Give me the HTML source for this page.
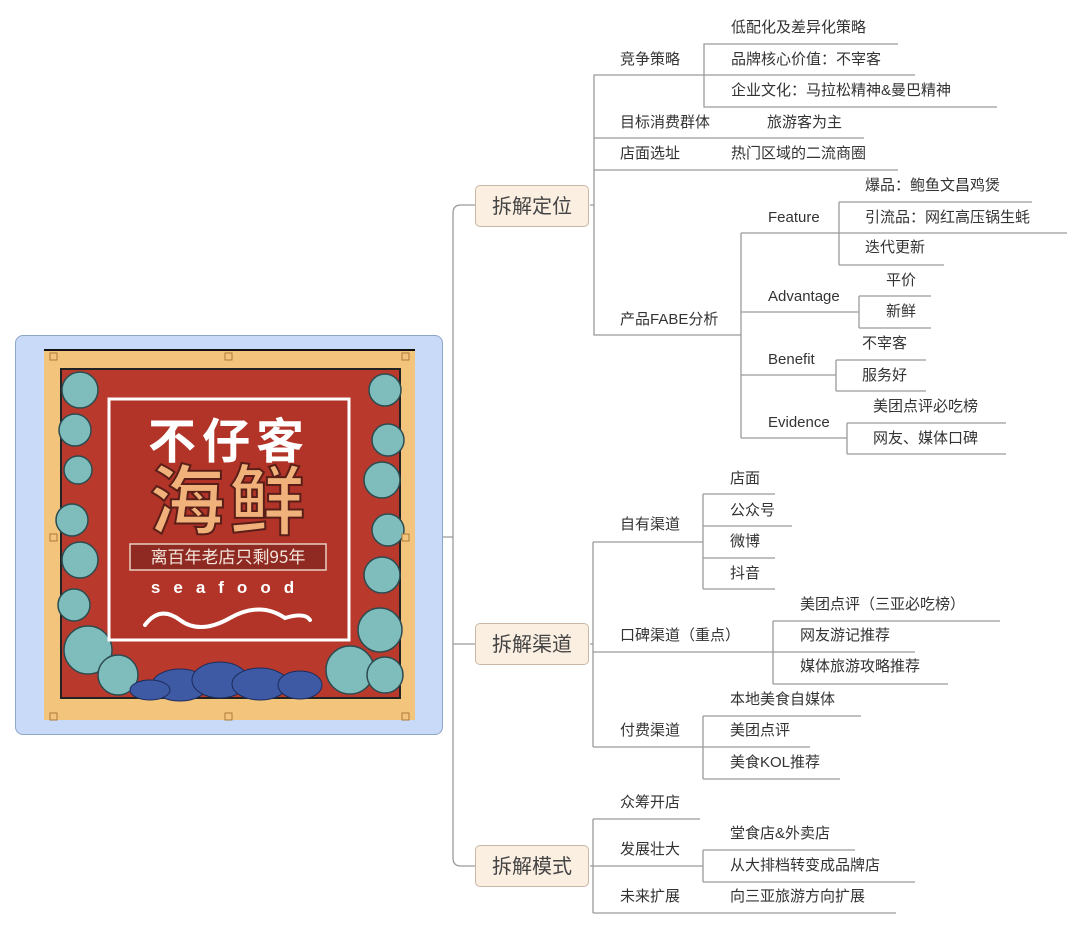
<!DOCTYPE html>
<html><head><meta charset="utf-8"><style>
body{margin:0;width:1080px;height:928px;background:#fff;position:relative;overflow:hidden;font-family:"Liberation Sans","Noto Sans CJK SC",sans-serif;color:#333}
.t{position:absolute;font-size:15px;line-height:18px;white-space:nowrap;transform:translateY(-50%)}
.b{position:absolute;left:475px;width:114px;height:42px;background:#fbefe2;border:1px solid #c9b8a6;border-radius:5px;font-size:20px;line-height:42px;text-align:center;color:#444;box-sizing:border-box}
svg{position:absolute;left:0;top:0}
</style></head><body>
<svg width="1080" height="928" fill="none" stroke="#9a9a9a" stroke-width="1.3">
<path d="M475 205H461Q453 205 453 213V858Q453 866 461 866H475M443 537H453M453 644H475"/>
<path d="M590 205H594M600 75H594V335H741M594 138H864M594 170H898M594 75H704M710 44H704V107H997M704 75H915M704 44H898"/>
<path d="M741 233V438M741 233H839M741 312H859M741 375H836M741 438H847"/>
<path d="M839 202V265M839 202H1032M839 233H1067M839 265H944"/>
<path d="M859 296V328M859 296H931M859 328H931"/>
<path d="M836 360V391M836 360H926M836 391H926"/>
<path d="M847 423V454M847 423H1006M847 454H1006"/>
<path d="M590 644H593M593 542V747M593 542H703M593 652H773M593 747H703"/>
<path d="M703 494V589M703 494H775M703 526H792M703 558H775M703 589H775"/>
<path d="M773 621V684M773 621H1000M773 652H915M773 684H948"/>
<path d="M703 716V779M703 716H861M703 747H810M703 779H840"/>
<path d="M590 866H593M593 819V913M593 819H700M593 866H703M593 913H896M703 850V882M703 850H855M703 882H915"/>
</svg>

<div class="b" style="top:185px">拆解定位</div>
<div class="b" style="top:623px">拆解渠道</div>
<div class="b" style="top:845px">拆解模式</div>

<div class="t" style="left:620px;top:60px">竞争策略</div>
<div class="t" style="left:731px;top:28px">低配化及差异化策略</div>
<div class="t" style="left:731px;top:60px">品牌核心价值：不宰客</div>
<div class="t" style="left:731px;top:91px">企业文化：马拉松精神&amp;曼巴精神</div>
<div class="t" style="left:620px;top:123px">目标消费群体</div>
<div class="t" style="left:767px;top:123px">旅游客为主</div>
<div class="t" style="left:620px;top:154px">店面选址</div>
<div class="t" style="left:731px;top:154px">热门区域的二流商圈</div>
<div class="t" style="left:620px;top:320px">产品FABE分析</div>
<div class="t" style="left:768px;top:218px">Feature</div>
<div class="t" style="left:865px;top:186px">爆品：鲍鱼文昌鸡煲</div>
<div class="t" style="left:865px;top:218px">引流品：网红高压锅生蚝</div>
<div class="t" style="left:865px;top:248px">迭代更新</div>
<div class="t" style="left:768px;top:297px">Advantage</div>
<div class="t" style="left:886px;top:281px">平价</div>
<div class="t" style="left:886px;top:312px">新鲜</div>
<div class="t" style="left:768px;top:360px">Benefit</div>
<div class="t" style="left:862px;top:344px">不宰客</div>
<div class="t" style="left:862px;top:376px">服务好</div>
<div class="t" style="left:768px;top:423px">Evidence</div>
<div class="t" style="left:873px;top:407px">美团点评必吃榜</div>
<div class="t" style="left:873px;top:439px">网友、媒体口碑</div>

<div class="t" style="left:620px;top:525px">自有渠道</div>
<div class="t" style="left:730px;top:479px">店面</div>
<div class="t" style="left:730px;top:511px">公众号</div>
<div class="t" style="left:730px;top:542px">微博</div>
<div class="t" style="left:730px;top:574px">抖音</div>
<div class="t" style="left:620px;top:636px">口碑渠道（重点）</div>
<div class="t" style="left:800px;top:605px">美团点评（三亚必吃榜）</div>
<div class="t" style="left:800px;top:636px">网友游记推荐</div>
<div class="t" style="left:800px;top:667px">媒体旅游攻略推荐</div>
<div class="t" style="left:620px;top:731px">付费渠道</div>
<div class="t" style="left:730px;top:700px">本地美食自媒体</div>
<div class="t" style="left:730px;top:731px">美团点评</div>
<div class="t" style="left:730px;top:763px">美食KOL推荐</div>

<div class="t" style="left:620px;top:803px">众筹开店</div>
<div class="t" style="left:620px;top:850px">发展壮大</div>
<div class="t" style="left:730px;top:834px">堂食店&amp;外卖店</div>
<div class="t" style="left:730px;top:866px">从大排档转变成品牌店</div>
<div class="t" style="left:620px;top:897px">未来扩展</div>
<div class="t" style="left:730px;top:897px">向三亚旅游方向扩展</div>

<div style="position:absolute;left:15px;top:335px;width:428px;height:400px;background:#c9daf8;border:1px solid #8ea6c8;border-radius:8px;box-sizing:border-box"></div>
<svg width="1080" height="928" style="position:absolute;left:0;top:0">
<rect x="44" y="349" width="371" height="2" fill="#111"/>
<rect x="44" y="351" width="371" height="369" fill="#f2c47c"/>
<rect x="61" y="369" width="339" height="329" fill="#b93a2c" stroke="#222" stroke-width="2"/>
<g fill="#7fbcbc" stroke="#2c4b4f" stroke-width="1.5">
<circle cx="80" cy="390" r="18"/><circle cx="75" cy="430" r="16"/><circle cx="78" cy="470" r="14"/><circle cx="72" cy="520" r="16"/><circle cx="80" cy="560" r="18"/><circle cx="74" cy="605" r="16"/><circle cx="88" cy="650" r="24"/><circle cx="118" cy="675" r="20"/>
<circle cx="385" cy="390" r="16"/><circle cx="388" cy="440" r="16"/><circle cx="382" cy="480" r="18"/><circle cx="388" cy="530" r="16"/><circle cx="382" cy="575" r="18"/><circle cx="380" cy="630" r="22"/><circle cx="350" cy="670" r="24"/><circle cx="385" cy="675" r="18"/>
</g>
<g fill="#3e5aa5" stroke="#1d2b5a" stroke-width="1">
<ellipse cx="180" cy="685" rx="28" ry="16"/><ellipse cx="220" cy="680" rx="28" ry="18"/><ellipse cx="260" cy="684" rx="28" ry="16"/><ellipse cx="300" cy="685" rx="22" ry="14"/><ellipse cx="150" cy="690" rx="20" ry="10"/>
</g>
<rect x="109" y="399" width="240" height="241" fill="#b23428" stroke="#fff" stroke-width="3"/>
<text x="229" y="458" font-family="Noto Sans CJK SC,sans-serif" font-size="48" font-weight="bold" fill="#fff" text-anchor="middle" letter-spacing="6">不仔客</text>
<text x="229" y="528" font-family="Noto Sans CJK SC,sans-serif" font-size="76" font-weight="bold" fill="#f0b27a" stroke="#5a1e18" stroke-width="2" text-anchor="middle" letter-spacing="4">海鲜</text>
<rect x="130" y="544" width="196" height="26" fill="#8f2a22" stroke="#e8cfc0" stroke-width="1.5"/>
<text x="228" y="563" font-family="Noto Sans CJK SC,sans-serif" font-size="17" fill="#f3e6dc" text-anchor="middle">离百年老店只剩95年</text>
<text x="229" y="593" font-family="Liberation Sans,sans-serif" font-size="17" font-weight="bold" fill="#fff" text-anchor="middle" letter-spacing="13">seafood</text>
<path d="M145 625Q160 605 180 620T230 618T285 618Q305 612 310 620" stroke="#fff" stroke-width="4" fill="none" stroke-linecap="round"/>
<g fill="#f2c47c" stroke="#b07a3a" stroke-width="1"><rect x="50" y="353" width="7" height="7"/><rect x="225" y="353" width="7" height="7"/><rect x="402" y="353" width="7" height="7"/><rect x="50" y="534" width="7" height="7"/><rect x="402" y="534" width="7" height="7"/><rect x="50" y="713" width="7" height="7"/><rect x="225" y="713" width="7" height="7"/><rect x="402" y="713" width="7" height="7"/></g>
</svg>
</body></html>
